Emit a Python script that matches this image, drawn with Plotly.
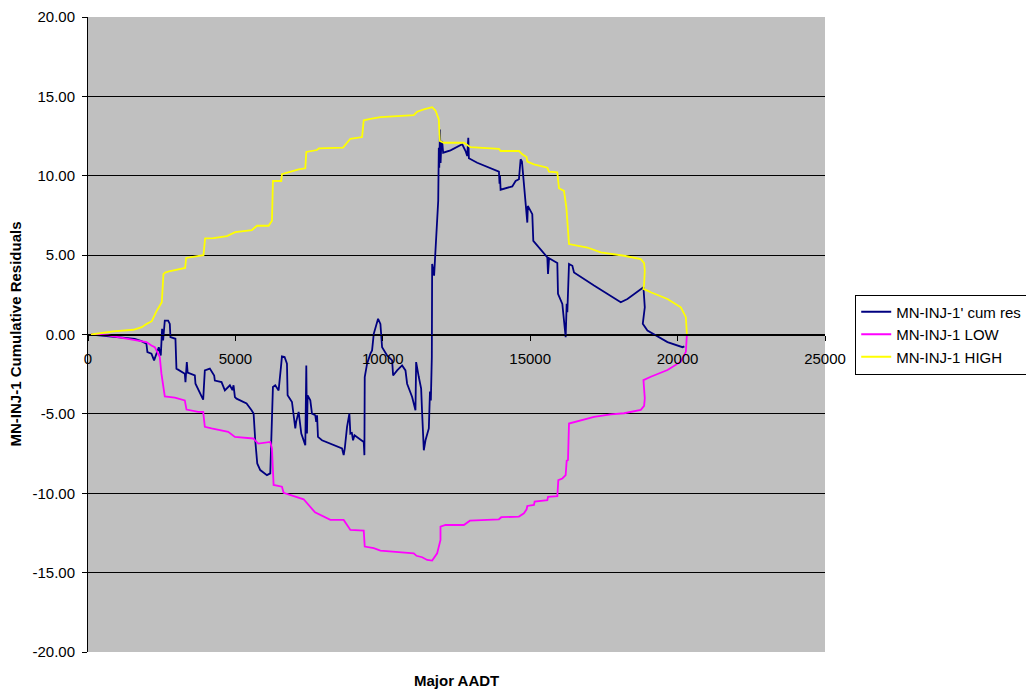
import plotly.graph_objects as go

# ---------------- data ----------------
res_x = [100, 907, 1586, 1812, 1981, 2015, 2152, 2242, 2322, 2401, 2469, 2514, 2548, 2582, 2605,
         2718, 2775, 2796, 2966, 3000, 3284, 3306, 3352, 3380, 3624, 3646, 3907, 3963, 4133, 4280,
         4303, 4530, 4643, 4813, 4900, 4937, 4983, 5039, 5379, 5548, 5617, 5673, 5741, 5843, 6070,
         6183, 6240, 6273, 6352, 6466, 6545, 6579, 6669, 6749, 6771, 6919, 7032, 7060, 7145, 7180,
         7235, 7371, 7405, 7428, 7450, 7541, 7598, 7711, 7740, 7770, 7801, 7937, 8221, 8617, 8673,
         8710, 8787, 8866, 8900, 8950, 8991, 9040, 9353, 9376, 9387, 9467, 9580, 9636, 9693, 9749,
         9840, 9919, 9976, 10146, 10316, 10350, 10486, 10655, 10769, 10825, 10995, 11108, 11131,
         11221, 11301, 11330, 11391, 11448, 11561, 11600, 11630, 11663, 11674, 11740, 11790, 11850,
         11880, 11900, 11915, 11940, 11960, 11985, 12013, 12047, 12297, 12694, 12807, 12864, 12900,
         12920, 13203, 13939, 13960, 13975, 13996, 14392, 14505, 14618, 14675, 14720, 14788, 14868,
         14902, 14920, 15071, 15105, 15467, 15581, 15604, 15640, 15920, 15943, 16090, 16203, 16237,
         16260, 16316, 16430, 16486, 17165, 18072, 18298, 18842, 18887, 18819, 18977, 19657, 20167,
         20230]
res_y = [0.0, -0.13, -0.27, -0.42, -0.58, -1.11, -1.21, -1.63, -1.21, -0.8, -1.32, 0.36, -0.38, 0.46, 0.88,
         0.88, 0.67, -0.17, -0.27, -2.15, -2.47, -3.0, -1.74, -2.4, -2.58, -3.1, -4.1, -2.26, -2.15, -2.58,
         -2.9, -3.0, -3.52, -3.2, -3.5, -3.2, -3.94, -4.04, -4.35, -4.77, -4.98, -6.66, -8.12, -8.54, -8.86,
         -8.75, -5.82, -3.31, -3.2, -3.52, -2.05, -1.38, -1.42, -1.84, -3.83, -4.25, -5.92, -5.5, -4.88, -5.4,
         -6.24, -6.97, -1.95, -6.24, -3.83, -4.15, -4.98, -5.09, -5.5, -5.09, -6.45, -6.66, -6.87, -7.18, -7.6,
         -7.18, -5.82, -4.98, -6.24, -6.2, -6.66, -6.35, -6.77, -7.6, -2.68, -1.84, -1.21, -1.0, 0.04, 0.36,
         0.99, 0.67, -0.8, -1.32, -1.63, -2.58, -2.26, -1.95, -2.26, -3.1, -3.94, -4.77, -1.74,
         -2.68, -3.41, -4.77, -7.29, -6.66, -5.92, -3.6, -4.15, -1.42, 4.44, 3.71, 5.48, 7.37,
         8.42, 11.77, 10.51, 12.92, 10.8, 12.0, 12.19, 11.45, 11.6, 11.98, 11.56, 11.24, 12.39,
         11.1, 10.82, 10.26, 9.5, 10.0, 9.12, 9.33, 9.67, 9.78, 11.04, 10.9, 9.47, 8.21,
         7.05, 8.1, 7.58, 5.9, 5.07, 4.86, 3.81, 4.8, 4.5, 2.56, 1.93, -0.17, 1.93,
         1.4, 4.44, 4.33, 3.91, 3.08, 2.03, 2.24, 2.97, 1.71, 0.67, 0.25, -0.48, -0.8,
         -0.75]

high_x = [100, 860, 1540, 1823, 1993, 2163, 2333, 2503, 2560, 2616, 2786, 2955, 3295, 3330, 3692,
          3917, 3974, 4257, 4711, 4994, 5560, 5730, 6126, 6240, 6273, 6556, 6579, 6749, 7145, 7371,
          7405, 7768, 7824, 8651, 8900, 9297, 9353, 9580, 9919, 11051, 11165, 11391, 11674, 11788,
          11900, 11934, 12070, 12750, 12977, 13939, 13996, 14618, 14732, 14878, 14902, 15128, 15581,
          15637, 15920, 15976, 16146, 16227, 16316, 16941, 17393, 18185, 18751, 18864, 18887, 18864,
          18842, 19091, 19657, 20110, 20280, 20314]
high_y = [0.0, 0.2, 0.3, 0.46, 0.67, 0.84, 1.5, 2.03, 3.8, 3.9, 4.0, 4.06, 4.19, 4.82, 4.96,
          5.0, 6.05, 6.07, 6.2, 6.45, 6.58, 6.85, 6.85, 7.16, 9.67, 9.67, 10.1, 10.2, 10.4, 10.47,
          11.5, 11.62, 11.73, 11.77, 12.33, 12.44, 13.49, 13.59, 13.69, 13.82, 14.03, 14.18, 14.32, 14.11,
          13.55, 12.19, 12.08, 12.08, 11.8, 11.7, 11.56, 11.56, 11.35, 11.18, 10.89, 10.72, 10.51,
          10.26, 10.22, 9.21, 9.05, 8.0, 5.7, 5.48, 5.17, 4.96, 4.75, 4.5, 4.02, 3.18,
          2.87, 2.66, 2.24, 1.71, 1.09, 0.04]

low_x = [100, 680, 1019, 1472, 1700, 1981, 2152, 2265, 2322, 2435, 2491, 2605, 2945, 3284, 3341,
         3737, 3907, 3963, 4190, 4756, 4983, 5605, 5775, 6183, 6240, 6296, 6579, 6636, 7315, 7700,
         8221, 8673, 8900, 9353, 9387, 9693, 9919, 11051, 11142, 11335, 11505, 11674, 11844, 11957,
         11957, 12127, 12750, 12954, 13939, 14019, 14618, 14788, 14878, 14902, 15128, 15151, 15581,
         15604, 15920, 15954, 16090, 16203, 16237, 16282, 16316, 16543, 17165, 17732, 18185, 18751,
         18864, 18887, 18864, 18842, 19091, 19657, 20110, 20280, 20314]
low_y = [0.0, -0.05, -0.17, -0.33, -0.42, -0.48, -0.69, -0.8, -1.0, -1.42, -2.47, -3.9, -3.98, -4.15, -4.73,
         -4.88, -4.88, -5.82, -5.92, -6.13, -6.45, -6.55, -6.87, -6.77, -7.18, -9.48, -9.59, -9.97, -10.38, -11.2,
         -11.68, -11.68, -12.31, -12.35, -13.36, -13.46, -13.61, -13.78, -13.94, -14.03, -14.2, -14.24, -13.78, -12.94,
         -12.1, -12.0, -12.0, -11.73, -11.64, -11.51, -11.47, -11.26, -11.01, -10.8, -10.74, -10.53, -10.43,
         -10.22, -10.18, -9.17, -9.07, -8.86, -7.96, -7.91, -5.61, -5.5, -5.19, -5.03, -4.96, -4.75,
         -4.5, -4.02, -3.18, -2.87, -2.66, -2.24, -1.71, -1.09, -0.04]

names = ["MN-INJ-1' cum res", "MN-INJ-1 LOW", "MN-INJ-1 HIGH"]
colors = ["#000080", "#FF00FF", "#FFFF00"]

x_ticks = [0, 5000, 10000, 15000, 20000, 25000]
y_ticks = [-20, -15, -10, -5, 0, 5, 10, 15, 20]

FONT = "Liberation Sans, Arial, sans-serif"

fig = go.Figure()
for xs, ys, nm, col in [(res_x, res_y, names[0], colors[0]),
                        (low_x, low_y, names[1], colors[1]),
                        (high_x, high_y, names[2], colors[2])]:
    fig.add_trace(go.Scatter(x=xs, y=ys, mode="lines", name=nm,
                             line=dict(color=col, width=1.8), line_shape="linear"))

# the page body adds an 8px offset, so the figure is sized/positioned to compensate
fig.update_layout(
    width=1026, height=683,
    margin=dict(l=80, r=209, t=9, b=39, autoexpand=False),
    paper_bgcolor="white",
    plot_bgcolor="#C0C0C0",
    font=dict(family=FONT, size=15, color="black"),
    showlegend=True,
    legend=dict(x=1.041, y=0.5, xanchor="left", yanchor="middle",
                bgcolor="white", bordercolor="black", borderwidth=1,
                font=dict(family=FONT, size=15), traceorder="normal"),
    xaxis=dict(range=[0, 25000], tickvals=x_ticks, ticktext=[str(v) for v in x_ticks],
               anchor="free", position=0.5, showgrid=False, zeroline=False, automargin=False,
               showline=True, linecolor="black", linewidth=1, ticklabeloverflow="allow",
               ticks="outside", ticklen=5, tickcolor="black", ticklabelstandoff=5),
    yaxis=dict(range=[-20, 20], tickvals=y_ticks, ticktext=[f"{v:.2f}" for v in y_ticks],
               showgrid=True, gridcolor="black", gridwidth=1, zeroline=False, automargin=False,
               showline=True, linecolor="black", linewidth=1, ticklabeloverflow="allow",
               ticks="outside", ticklen=5, tickcolor="black", ticklabelstandoff=4),
    annotations=[
        dict(text="<b>Major AADT</b>", xref="paper", yref="paper", x=0.5, y=0,
             xanchor="center", yanchor="middle", yshift=-28, showarrow=False,
             font=dict(family=FONT, size=15)),
        dict(text="<b>MN-INJ-1 Cumulative Residuals</b>", xref="paper", yref="paper", x=0, y=0.5,
             xanchor="center", yanchor="middle", xshift=-73, textangle=-90, showarrow=False,
             font=dict(family=FONT, size=15)),
    ],
)

fig.write_html("out.html")
